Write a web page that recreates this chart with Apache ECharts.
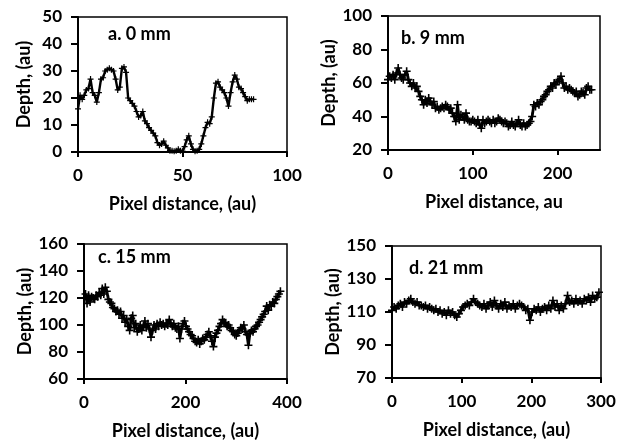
<!DOCTYPE html>
<html>
<head>
<meta charset="utf-8">
<script src="https://cdn.jsdelivr.net/npm/echarts@6/dist/echarts.min.js"></script>
<style>
html,body{margin:0;padding:0;background:#fff;}
#c{width:628px;height:441px;}
</style>
</head>
<body>
<div id="c"></div>
<script>
// ---- data ----
var panelTitles = ['a. 0 mm', 'b. 9 mm', 'c. 15 mm', 'd. 21 mm'];
var xNames = ['Pixel distance, (au)', 'Pixel distance, au', 'Pixel distance, (au)', 'Pixel distance, (au)'];
var yName = 'Depth, (au)';

var stepA = 1;
var depthA = [16,21,19.5,21,23,23.5,27,22,21,18.5,22,27,27.5,30,30.5,31,30.5,30,27,23,24,31,31.5,29.5,20,19,18,17,15,13,13.5,15,11.5,10.5,9,8,7,6,3.5,2.5,3,4,2.5,1.5,0.5,0.5,0.3,0.5,1,0.5,0.3,2,4.5,6,3,1,0.3,0.5,1,3,6,9,11,10.5,13,20,25.5,26,24,23,22,20,17,22,26,28.5,27,24,23.5,22,20.5,19,19.5,19.5,19.5];

var stepB = 2;
var depthB = [62,64,63,65,62,66,69,65,63,62,65,67,62,60,58,60,57,58,55,52,50,47,50,48,51,49,47,49,45,46,44,45,46,45,47,46,44,45,42,40,37,47,38,41,40,38,42,38,37,37,38,37,36,38,35,33,38,36,37,38,37,36,38,36,37,39,38,37,36,37,36,34,35,37,35,34,36,38,35,34,36,34,35,36,37,40,47,46,48,47,49,50,52,53,55,56,58,57,60,59,61,62,64,60,57,58,56,57,56,55,54,55,52,53,55,54,53,57,58,56,56];

var stepC = 3;
var depthC = [120,123,116,122,117,121,120,119,122,121,124,122,127,123,128,125,119,117,116,113,112,110,111,108,110,105,107,102,104,99,96,105,107,98,101,95,97,100,96,99,103,98,101,97,91,96,100,97,101,99,102,100,101,99,101,100,104,101,99,101,98,97,99,90,97,101,103,99,97,95,93,92,90,88,87,89,86,88,90,89,91,93,95,92,88,84,91,94,96,99,101,104,102,101,99,100,98,96,95,93,92,94,96,98,97,100,95,93,85,94,96,95,97,99,100,102,104,106,108,110,114,111,115,114,117,116,119,121,123,125];

var stepD = 3;
var depthD = [111,113,112,114,115,113,116,115,117,118,116,115,116,114,114,113,114,112,113,112,111,112,110,111,109,110,108,111,109,110,108,107,109,111,113,114,115,114,116,118,116,115,114,113,115,112,114,116,113,117,114,112,115,113,116,112,114,113,115,112,114,115,114,113,111,112,105,110,112,111,113,110,112,113,111,114,112,117,113,115,111,114,112,115,120,116,117,115,118,116,117,115,118,117,119,116,120,118,119,122];

var xMin = [0,0,0,0], xMax = [100,250,400,300], xInterval = [50,100,200,100];
var yMin = [0,20,60,70], yMax = [50,100,160,150], yInterval = [10,20,20,20];

// ---- layout ----
var grids = [
  {left:78, top:17, width:209, height:135},
  {left:388, top:16, width:212, height:134},
  {left:84, top:244, width:203, height:137},
  {left:392, top:246, width:209, height:132}
];
var titlePos = [[103,20],[396,24],[93,243],[404,254]];
var lineW = [2.4, 2.8, 2.8, 2.8];
var symSize = [6, 8, 8, 8];

var FONT = 'Lato';
var plus = 'path://M2,0H3V2H5V3H3V5H2V3H0V2H2Z';

function toPairs(arr, step){
  var out = [];
  for (var i=0;i<arr.length;i++) out.push([i*step, arr[i]]);
  return out;
}
var allData = [toPairs(depthA,stepA), toPairs(depthB,stepB), toPairs(depthC,stepC), toPairs(depthD,stepD)];

var option = {
  backgroundColor:'#fff',
  animation:false,
  title: [], grid: [], xAxis: [], yAxis: [], series: []
};
for (var k=0;k<4;k++){
  option.grid.push(Object.assign({show:true, borderColor:'#000', borderWidth:1.5, backgroundColor:'transparent'}, grids[k]));
  option.title.push({text:panelTitles[k], left:titlePos[k][0], top:titlePos[k][1],
    textStyle:{fontFamily:FONT, fontWeight:'bold', fontSize:18, color:'#000'}});
  option.xAxis.push({
    type:'value', gridIndex:k, min:xMin[k], max:xMax[k], interval:xInterval[k],
    name:xNames[k], nameLocation:'middle', nameGap:43,
    nameTextStyle:{fontFamily:FONT, fontWeight:'bold', fontSize:18, color:'#000'},
    axisLine:{show:true, onZero:false, lineStyle:{color:'#000', width:2}},
    axisTick:{show:true, length:5, lineStyle:{color:'#000', width:2}},
    axisLabel:{fontFamily:FONT, fontWeight:'bold', fontSize:17, color:'#000', margin:15, showMaxLabel: k===1 ? false : true},
    splitLine:{show:false}
  });
  option.yAxis.push({
    type:'value', gridIndex:k, min:yMin[k], max:yMax[k], interval:yInterval[k],
    name:yName, nameLocation:'middle', nameGap:45,
    nameTextStyle:{fontFamily:FONT, fontWeight:'bold', fontSize:18, color:'#000'},
    axisLine:{show:true, onZero:false, lineStyle:{color:'#000', width:2}},
    axisTick:{show:true, length:7, lineStyle:{color:'#000', width:2}},
    axisLabel:{fontFamily:FONT, fontWeight:'bold', fontSize:17, color:'#000', margin:16},
    splitLine:{show:false}
  });
  option.series.push({
    type:'line', xAxisIndex:k, yAxisIndex:k, data:allData[k],
    symbol:plus, symbolSize:symSize[k], showSymbol:true,
    itemStyle:{color:'#000'},
    lineStyle:{color:'#000', width:lineW[k]}
  });
}
var chart = echarts.init(document.getElementById('c'), null, {renderer:'canvas'});
chart.setOption(option);
</script>
</body>
</html>
